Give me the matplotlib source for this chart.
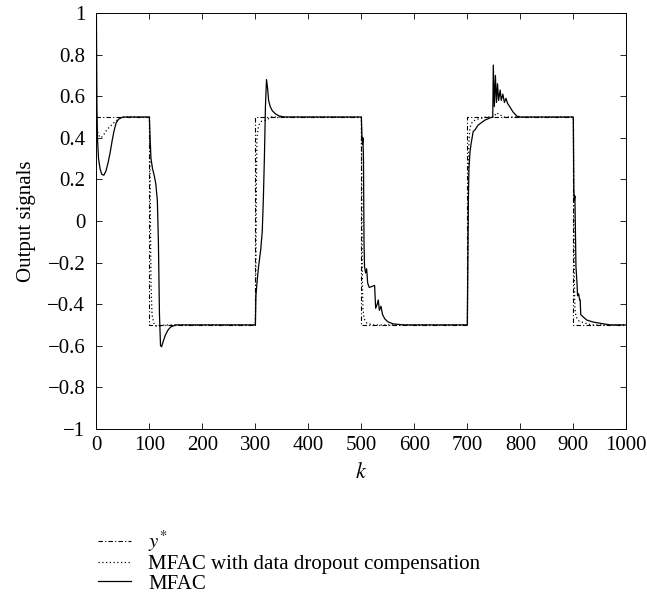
import numpy as np
import matplotlib
matplotlib.use("Agg")
import matplotlib.pyplot as plt


# =========================
# DATA
# =========================
# reference trajectory y*: step levels between edges
REF_EDGES = [0, 100, 300, 500, 700, 900, 1000]
REF_LEVELS = [0.5, -0.5, 0.5, -0.5, 0.5, -0.5]

# MFAC (solid)
MFAC_K = [0, 1, 2, 4, 7, 10, 14, 18, 22, 26, 30, 33, 37, 42, 50, 100,
          101, 103, 106, 109, 112, 115, 117, 119, 121, 123, 126, 130, 135, 140, 150, 300,
          301, 303, 306, 310, 313, 315, 317, 319, 321, 323, 325, 328, 332, 338, 345, 355, 500,
          501, 502, 503, 504, 505, 506, 508, 510, 512, 515, 525, 527, 530, 532, 534, 537,
          540, 544, 550, 560, 580, 700,
          701, 702, 703, 705, 707, 709, 711, 715, 720, 725, 733, 745, 748, 749, 751, 753,
          755, 757, 759, 762, 764, 767, 770, 773, 776, 780, 786, 793, 800, 900,
          901, 902, 903, 904, 905, 907, 908, 910, 912, 913, 914, 918, 925, 937, 950, 970, 1000]
MFAC_Y = [1.0, 0.55, 0.40, 0.30, 0.25, 0.225, 0.22, 0.24, 0.28, 0.33, 0.39, 0.43, 0.47, 0.49, 0.50, 0.50,
          0.42, 0.30, 0.25, 0.22, 0.18, 0.10, -0.10, -0.45, -0.60, -0.605, -0.58, -0.55, -0.525, -0.51, -0.50, -0.50,
          -0.36, -0.30, -0.22, -0.14, -0.05, 0.10, 0.30, 0.55, 0.68, 0.64, 0.58, 0.55, 0.53, 0.515, 0.505, 0.50, 0.50,
          0.42, 0.37, 0.40, 0.30, -0.10, -0.22, -0.25, -0.23, -0.30, -0.32, -0.31, -0.42, -0.40, -0.38, -0.43, -0.41,
          -0.45, -0.47, -0.485, -0.495, -0.50, -0.50,
          -0.20, 0.10, 0.25, 0.33, 0.37, 0.40, 0.43, 0.44, 0.46, 0.47, 0.485, 0.498, 0.50, 0.75, 0.55, 0.70,
          0.57, 0.66, 0.58, 0.63, 0.58, 0.61, 0.57, 0.59, 0.565, 0.55, 0.525, 0.505, 0.50, 0.50,
          0.15, 0.10, 0.12, -0.05, -0.22, -0.30, -0.36, -0.35, -0.38, -0.38, -0.45, -0.46, -0.476, -0.486, -0.492, -0.50, -0.50]

# MFAC with data dropout compensation (dotted)
COMP_K = [0, 2, 5, 9, 14, 20, 28, 36, 45, 55, 100,
          101, 102, 103, 105, 108, 112, 120, 130, 300,
          301, 302, 303, 306, 312, 321, 330, 500,
          501, 502, 503, 505, 510, 520, 700,
          701, 702, 703, 705, 710, 720, 735, 750, 755, 762, 770, 900,
          901, 902, 903, 905, 910, 920, 935, 1000]
COMP_Y = [0.50, 0.43, 0.41, 0.40, 0.415, 0.44, 0.46, 0.48, 0.495, 0.50, 0.50,
          0.30, 0.00, -0.30, -0.45, -0.49, -0.505, -0.505, -0.50, -0.50,
          -0.20, 0.20, 0.40, 0.46, 0.48, 0.486, 0.50, 0.50,
          0.00, -0.30, -0.42, -0.47, -0.49, -0.50, -0.50,
          -0.10, 0.20, 0.38, 0.45, 0.48, 0.49, 0.50, 0.50, 0.52, 0.51, 0.50, 0.50,
          0.00, -0.30, -0.42, -0.46, -0.48, -0.49, -0.50, -0.50]

X_TICKS = list(range(0, 1001, 100))
Y_TICKS = [-1, -0.8, -0.6, -0.4, -0.2, 0, 0.2, 0.4, 0.6, 0.8, 1]


# =========================
# STYLE
# =========================
plt.rcParams["font.family"] = ["Liberation Serif", "DejaVu Serif"]
plt.rcParams["mathtext.fontset"] = "stix"
plt.rcParams["font.size"] = 15


def tick_label(v):
    if v == 0:
        return "0"
    s = f"{v:g}"
    return s.replace("-", "\u2212")


def main():
    fig = plt.figure(figsize=(6.47, 5.94), dpi=100)
    ax = fig.add_axes([0.149, 0.278, 0.819, 0.700])

    ref_k = np.array(REF_EDGES, dtype=float)
    ref_y = np.array(REF_LEVELS + [REF_LEVELS[-1]], dtype=float)

    ax.plot(ref_k, ref_y, drawstyle="steps-post", color="black",
            linewidth=0.8, linestyle=(0, (4, 2, 1, 2)), label=r"$y^{*}$")
    ax.plot(COMP_K, COMP_Y, color="black", linewidth=0.9,
            linestyle=(0, (1, 2)), label="MFAC with data dropout compensation")
    ax.plot(MFAC_K, MFAC_Y, color="black", linewidth=0.9,
            linestyle="-", label="MFAC")

    ax.set_xlim(0, 1000)
    ax.set_ylim(-1, 1)
    ax.set_xticks(X_TICKS)
    ax.set_yticks(Y_TICKS)
    ax.set_yticklabels([tick_label(v) for v in Y_TICKS])
    ax.tick_params(direction="in", top=True, right=True, length=4, width=0.6)
    ax.tick_params(axis="y", pad=8)
    ax.tick_params(axis="x", pad=5)
    for sp in ax.spines.values():
        sp.set_linewidth(0.7)

    ax.set_xlabel(r"$k$", fontsize=16, labelpad=6)
    ax.set_ylabel("Output signals", labelpad=8)

    handles, labels = ax.get_legend_handles_labels()
    fig.legend(handles, labels, loc="upper left",
               bbox_to_anchor=(98 / 647, 1 - 529 / 594),
               frameon=False, handlelength=1.6, handletextpad=0.8,
               labelspacing=0.0, borderpad=0, borderaxespad=0)

    fig.savefig("out.png", dpi=100)
    plt.close(fig)


if __name__ == "__main__":
    main()
